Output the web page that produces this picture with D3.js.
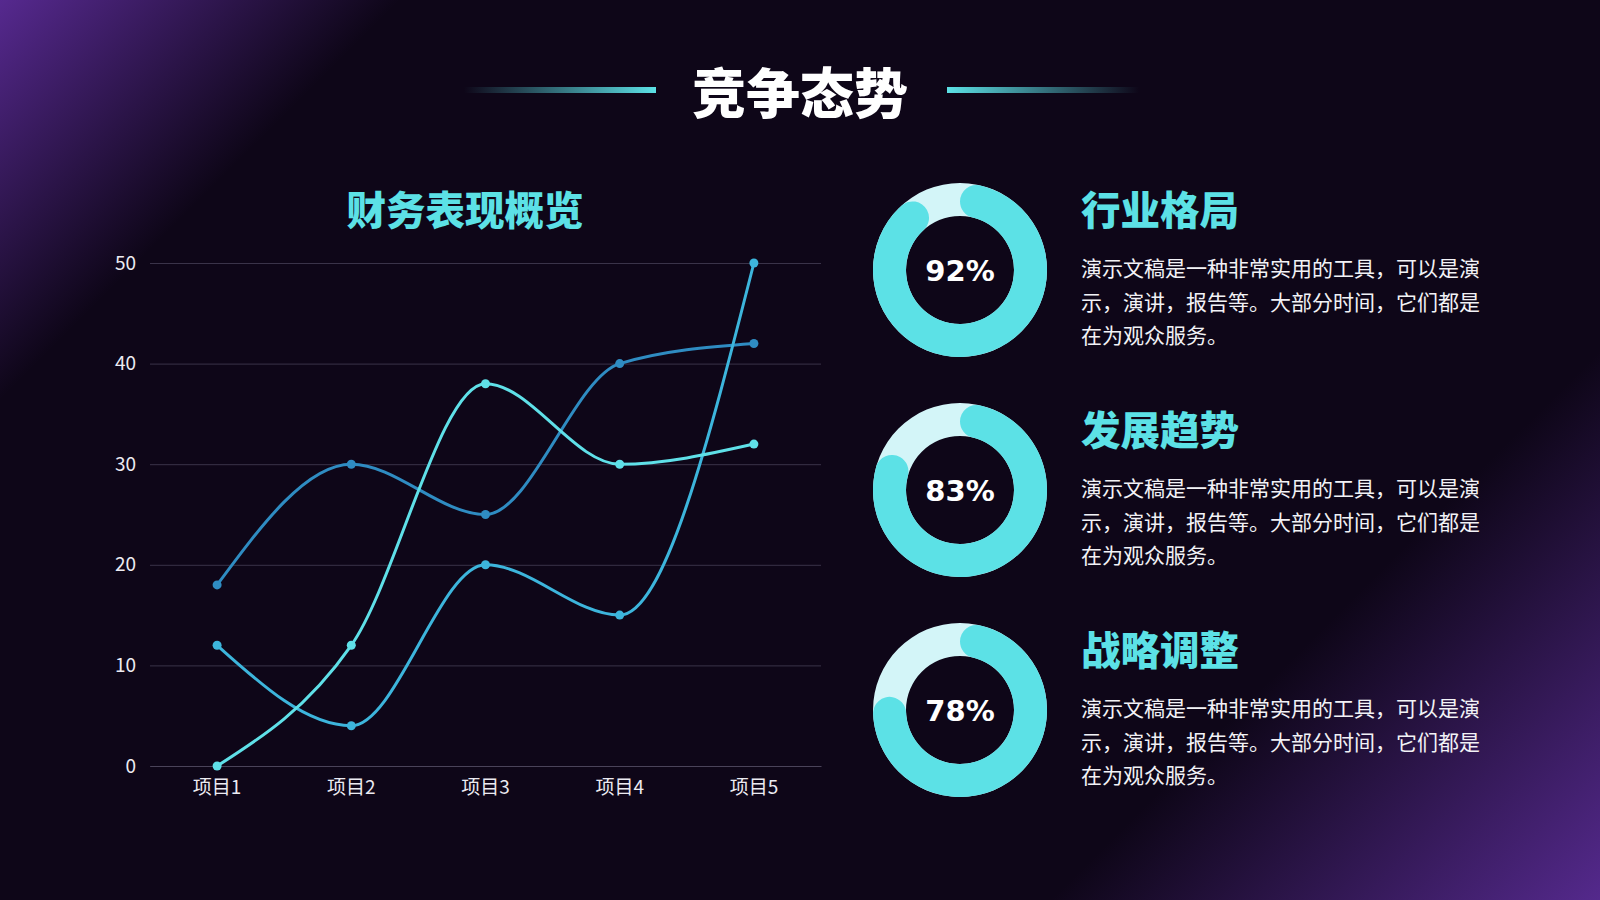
<!DOCTYPE html>
<html>
<head>
<meta charset="utf-8">
<script src="https://cdn.jsdelivr.net/npm/d3@7"></script>
<style>
  html, body { margin: 0; padding: 0; background: #0e0618; }
  svg { display: block; }
</style>
</head>
<body>
<div id="chart"></div>
<script>
// chart data
var categories = ["项目1", "项目2", "项目3", "项目4", "项目5"];
var seriesA = [18, 30, 25, 40, 42];
var seriesB = [0, 12, 38, 30, 32];
var seriesC = [12, 4, 20, 15, 50];
var yTicks = [0, 10, 20, 30, 40, 50];

// right side cards
var donutValues = [92, 83, 78];
var cardTitles = ["行业格局", "发展趋势", "战略调整"];
var cardLines = [
    "演示文稿是一种非常实用的工具，可以是演",
    "示，演讲，报告等。大部分时间，它们都是",
    "在为观众服务。"
];

var W = 1600, H = 900;
var cyan = "#5ce1e6";
var cjk = "'Noto Sans CJK SC', 'Noto Sans', sans-serif";

var svg = d3.select("#chart").append("svg")
    .attr("width", W)
    .attr("height", H);

// background with purple corners
var defs = svg.append("defs");
var bg = defs.append("linearGradient")
    .attr("id", "bg")
    .attr("gradientUnits", "userSpaceOnUse")
    .attr("x1", 0).attr("y1", 0)
    .attr("x2", 1250).attr("y2", 1250);
bg.append("stop").attr("offset", 0).attr("stop-color", "#56298f");
bg.append("stop").attr("offset", 0.16).attr("stop-color", "#0e0618");
bg.append("stop").attr("offset", 0.78).attr("stop-color", "#0e0618");
bg.append("stop").attr("offset", 1).attr("stop-color", "#54298c");

svg.append("rect")
    .attr("width", W).attr("height", H)
    .attr("fill", "url(#bg)");

// header lines
var lineL = defs.append("linearGradient").attr("id", "lineL");
lineL.append("stop").attr("offset", 0).attr("stop-color", cyan).attr("stop-opacity", 0);
lineL.append("stop").attr("offset", 1).attr("stop-color", cyan).attr("stop-opacity", 1);
var lineR = defs.append("linearGradient").attr("id", "lineR");
lineR.append("stop").attr("offset", 0).attr("stop-color", cyan).attr("stop-opacity", 1);
lineR.append("stop").attr("offset", 1).attr("stop-color", cyan).attr("stop-opacity", 0);

svg.append("rect").attr("x", 464).attr("y", 87).attr("width", 192).attr("height", 6)
    .attr("fill", "url(#lineL)");
svg.append("rect").attr("x", 947).attr("y", 87).attr("width", 192).attr("height", 6)
    .attr("fill", "url(#lineR)");

svg.append("text")
    .attr("x", 800).attr("y", 90)
    .attr("text-anchor", "middle")
    .attr("dominant-baseline", "central")
    .style("font-family", cjk)
    .style("font-weight", 900)
    .style("font-size", "54px")
    .attr("fill", "#ffffff")
    .text("竞争态势");

// ---------- line chart ----------
svg.append("text")
    .attr("x", 465).attr("y", 207)
    .attr("text-anchor", "middle")
    .attr("dominant-baseline", "central")
    .style("font-family", cjk)
    .style("font-weight", 900)
    .style("font-size", "39.5px")
    .attr("fill", cyan)
    .text("财务表现概览");

var x = d3.scaleBand().domain(categories).range([150, 821]);
var y = d3.scaleLinear().domain([0, 50]).range([766, 263]);

var gy = svg.append("g")
    .attr("transform", "translate(150,0)")
    .call(d3.axisLeft(y).tickValues(yTicks).tickSize(-671).tickPadding(14));
gy.select(".domain").remove();
gy.selectAll(".tick line").attr("stroke", "#3a3349").attr("stroke-width", 1);
gy.selectAll(".tick text")
    .attr("fill", "#ecebf2")
    .style("font-family", cjk)
    .style("font-size", "19px");

var gx = svg.append("g")
    .attr("transform", "translate(0,766)")
    .call(d3.axisBottom(x).tickSize(0).tickPadding(15));
gx.select(".domain").attr("stroke", "#4a4359");
gx.selectAll(".tick text")
    .attr("fill", "#ecebf2")
    .style("font-family", cjk)
    .style("font-size", "19px");

var series = [
    {values: seriesA, color: "#2f8cc2"},
    {values: seriesC, color: "#3db5dc"},
    {values: seriesB, color: "#5fe0e8"}
];

var line = d3.line()
    .x(function(d, i) { return x(categories[i]) + x.bandwidth() / 2; })
    .y(function(d) { return y(d); })
    .curve(d3.curveMonotoneX);

series.forEach(function(s) {
    var g = svg.append("g");
    g.append("path")
        .attr("d", line(s.values))
        .attr("fill", "none")
        .attr("stroke", s.color)
        .attr("stroke-width", 3);
    g.selectAll("circle")
        .data(s.values)
        .enter().append("circle")
        .attr("cx", function(d, i) { return x(categories[i]) + x.bandwidth() / 2; })
        .attr("cy", function(d) { return y(d); })
        .attr("r", 4.5)
        .attr("fill", s.color);
});

// ---------- donuts + text ----------
var arc = d3.arc().innerRadius(54).outerRadius(87).cornerRadius(16.5);
var ring = d3.arc().innerRadius(54).outerRadius(87);

donutValues.forEach(function(v, i) {
    var cy = 270 + i * 220;
    var g = svg.append("g").attr("transform", "translate(960," + cy + ")");
    g.append("path")
        .attr("d", ring({startAngle: 0, endAngle: 2 * Math.PI}))
        .attr("fill", "#d3f5f8");
    g.append("path")
        .attr("d", arc({startAngle: 0, endAngle: v / 100 * 2 * Math.PI}))
        .attr("fill", cyan);
    g.append("text")
        .attr("text-anchor", "middle")
        .attr("dominant-baseline", "central")
        .attr("y", 1)
        .style("font-family", "'DejaVu Sans', sans-serif")
        .style("font-weight", "bold")
        .style("font-size", "29px")
        .attr("fill", "#ffffff")
        .text(v + "%");

    svg.append("text")
        .attr("x", 1081).attr("y", 207 + i * 220)
        .attr("dominant-baseline", "central")
        .style("font-family", cjk)
        .style("font-weight", 900)
        .style("font-size", "39.5px")
        .attr("fill", cyan)
        .text(cardTitles[i]);

    cardLines.forEach(function(t, j) {
        svg.append("text")
            .attr("x", 1081).attr("y", 267 + i * 220 + j * 33.5)
            .attr("dominant-baseline", "central")
            .style("font-family", cjk)
            .style("font-size", "21px")
            .attr("fill", "#f2f2f6")
            .text(t);
    });
});
</script>
</body>
</html>
